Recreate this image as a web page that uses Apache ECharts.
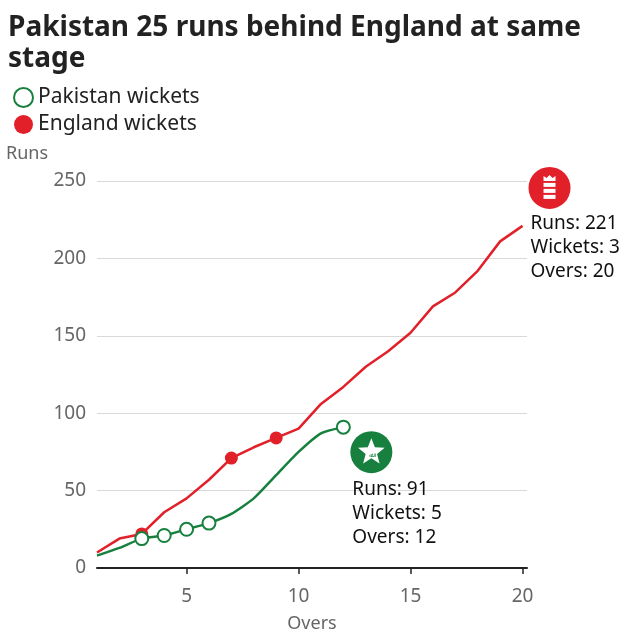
<!DOCTYPE html>
<html>
<head>
<meta charset="utf-8">
<script src="https://cdn.jsdelivr.net/npm/echarts@6/dist/echarts.min.js"></script>
<style>
  html, body { margin: 0; padding: 0; background: #fff; }
  #chart { width: 640px; height: 640px; }
</style>
</head>
<body>
<div id="chart"></div>
<script>
// overs 1..20
var overs = [1, 2, 3, 4, 5, 6, 7, 8, 9, 10, 11, 12, 13, 14, 15, 16, 17, 18, 19, 20]
var englandRuns = [10, 19, 22, 36, 45, 57, 71, 78, 84, 90, 106, 117, 130, 140, 152, 169, 178, 192, 211, 221]
var pakistanRuns = [8, 13, 19, 21, 25, 29, 35, 45, 60, 75, 87, 91]
var englandWicketOvers = [3, 7, 9]
var pakistanWicketOvers = [3, 4, 5, 6, 12]
var xTicks = [5, 10, 15, 20]

var RED = '#e1202a'
var GREEN = '#17803f'
var FONT = 'Noto Sans'

function toPairs(runs) {
  return runs.map(function(r, i) { return [overs[i], r] })
}
function wicketPairs(wOvers, runs) {
  return wOvers.map(function(o) { return [o, runs[o - 1]] })
}

var chart = echarts.init(document.getElementById('chart'), null, { renderer: 'canvas' })

chart.setOption({
  animation: false,
  title: {
    text: 'Pakistan 25 runs behind England at same\nstage',
    left: 3,
    top: 8,
    textStyle: {
      fontFamily: FONT,
      fontWeight: 'bold',
      fontSize: 28,
      lineHeight: 31,
      color: '#222'
    }
  },
  legend: {
    orient: 'vertical',
    left: 8,
    top: 82,
    itemWidth: 19,
    itemHeight: 19,
    itemGap: 6,
    data: ['Pakistan wickets', 'England wickets'],
    textStyle: { fontFamily: FONT, fontSize: 21, color: '#222' }
  },
  grid: {
    left: 97,
    right: 113,
    top: 181,
    bottom: 72,
    containLabel: false
  },
  xAxis: {
    type: 'value',
    min: 1,
    max: 20.2,
    name: 'Overs',
    nameLocation: 'middle',
    nameGap: 47,
    nameTextStyle: { fontFamily: FONT, fontSize: 18, color: '#666' },
    axisLine: { show: true, lineStyle: { color: '#222', width: 2 } },
    axisTick: { show: true, length: 6, customValues: xTicks, lineStyle: { color: '#222', width: 1.5 } },
    axisLabel: { customValues: xTicks, margin: 19, fontFamily: FONT, fontSize: 19, color: '#666' },
    splitLine: { show: false }
  },
  yAxis: {
    type: 'value',
    min: 0,
    max: 250,
    interval: 50,
    axisLine: { show: false },
    axisTick: { show: false },
    axisLabel: { margin: 11, fontFamily: FONT, fontSize: 19, color: '#666' },
    splitLine: { lineStyle: { color: '#d9d9d9', width: 1 } }
  },
  series: [
    {
      name: 'England',
      type: 'line',
      data: toPairs(englandRuns),
      showSymbol: false,
      lineStyle: { color: RED, width: 2.5 },
      z: 2
    },
    {
      name: 'Pakistan',
      type: 'line',
      data: toPairs(pakistanRuns),
      showSymbol: false,
      smooth: 0.2,
      lineStyle: { color: GREEN, width: 2.5 },
      z: 3
    },
    {
      name: 'England wickets',
      type: 'scatter',
      data: wicketPairs(englandWicketOvers, englandRuns),
      symbol: 'circle',
      symbolSize: 13,
      itemStyle: { color: RED, opacity: 1 },
      z: 4
    },
    {
      name: 'Pakistan wickets',
      type: 'scatter',
      data: wicketPairs(pakistanWicketOvers, pakistanRuns),
      symbol: 'circle',
      symbolSize: 13,
      itemStyle: { color: '#fff', borderColor: GREEN, borderWidth: 2, opacity: 1 },
      z: 5
    }
  ]
})

function starPoints(cx, cy, rOut, rIn) {
  var pts = []
  for (var i = 0; i < 10; i++) {
    var r = i % 2 === 0 ? rOut : rIn
    var a = -Math.PI / 2 + i * Math.PI / 5
    pts.push([cx + r * Math.cos(a), cy + r * Math.sin(a)])
  }
  return pts
}

function infoText(x, y, lines) {
  return {
    type: 'text',
    left: x,
    top: y,
    style: {
      text: lines.join('\n'),
      fontFamily: FONT,
      fontSize: 19,
      lineHeight: 24,
      fill: '#111'
    }
  }
}

var pakEnd = chart.convertToPixel({ gridIndex: 0 }, [overs[pakistanRuns.length - 1], pakistanRuns[pakistanRuns.length - 1]])
var engEnd = chart.convertToPixel({ gridIndex: 0 }, [overs[englandRuns.length - 1], englandRuns[englandRuns.length - 1]])

var pcx = pakEnd[0] + 28
var pcy = pakEnd[1] + 25
var ecx = engEnd[0] + 27
var ecy = engEnd[1] - 38

var engEmblem = [
  { type: 'circle', shape: { cx: ecx, cy: ecy, r: 21 }, style: { fill: RED } },
  // crown
  { type: 'polygon', shape: { points: [[ecx - 6, ecy - 7], [ecx - 6, ecy - 12], [ecx - 3, ecy - 10], [ecx, ecy - 13], [ecx + 3, ecy - 10], [ecx + 6, ecy - 12], [ecx + 6, ecy - 7]] }, style: { fill: '#fff' } },
  // three lions
  { type: 'rect', shape: { x: ecx - 6, y: ecy - 5, width: 12, height: 4 }, style: { fill: '#fff' } },
  { type: 'rect', shape: { x: ecx - 6, y: ecy + 1, width: 12, height: 4 }, style: { fill: '#fff' } },
  { type: 'rect', shape: { x: ecx - 6, y: ecy + 7, width: 12, height: 4 }, style: { fill: '#fff' } }
]

chart.setOption({
  graphic: [
    {
      type: 'text',
      left: 6,
      top: 145,
      style: { text: 'Runs', fontFamily: FONT, fontSize: 18, fill: '#666' }
    },
    { type: 'circle', shape: { cx: pcx, cy: pcy, r: 21 }, style: { fill: GREEN } },
    { type: 'polygon', shape: { points: starPoints(pcx, pcy, 14, 6) }, style: { fill: '#fff' } },
    {
      type: 'text',
      x: pcx,
      y: pcy + 3,
      style: { text: 'ﷲ', fontSize: 6, fill: GREEN, align: 'center', verticalAlign: 'middle' }
    },
    infoText(pakEnd[0] + 9, pakEnd[1] + 50, ['Runs: ' + pakistanRuns[pakistanRuns.length - 1], 'Wickets: ' + pakistanWicketOvers.length, 'Overs: ' + pakistanRuns.length]),
    infoText(engEnd[0] + 8, engEnd[1] - 14, ['Runs: ' + englandRuns[englandRuns.length - 1], 'Wickets: ' + englandWicketOvers.length, 'Overs: ' + englandRuns.length])
  ].concat(engEmblem)
})
</script>
</body>
</html>
